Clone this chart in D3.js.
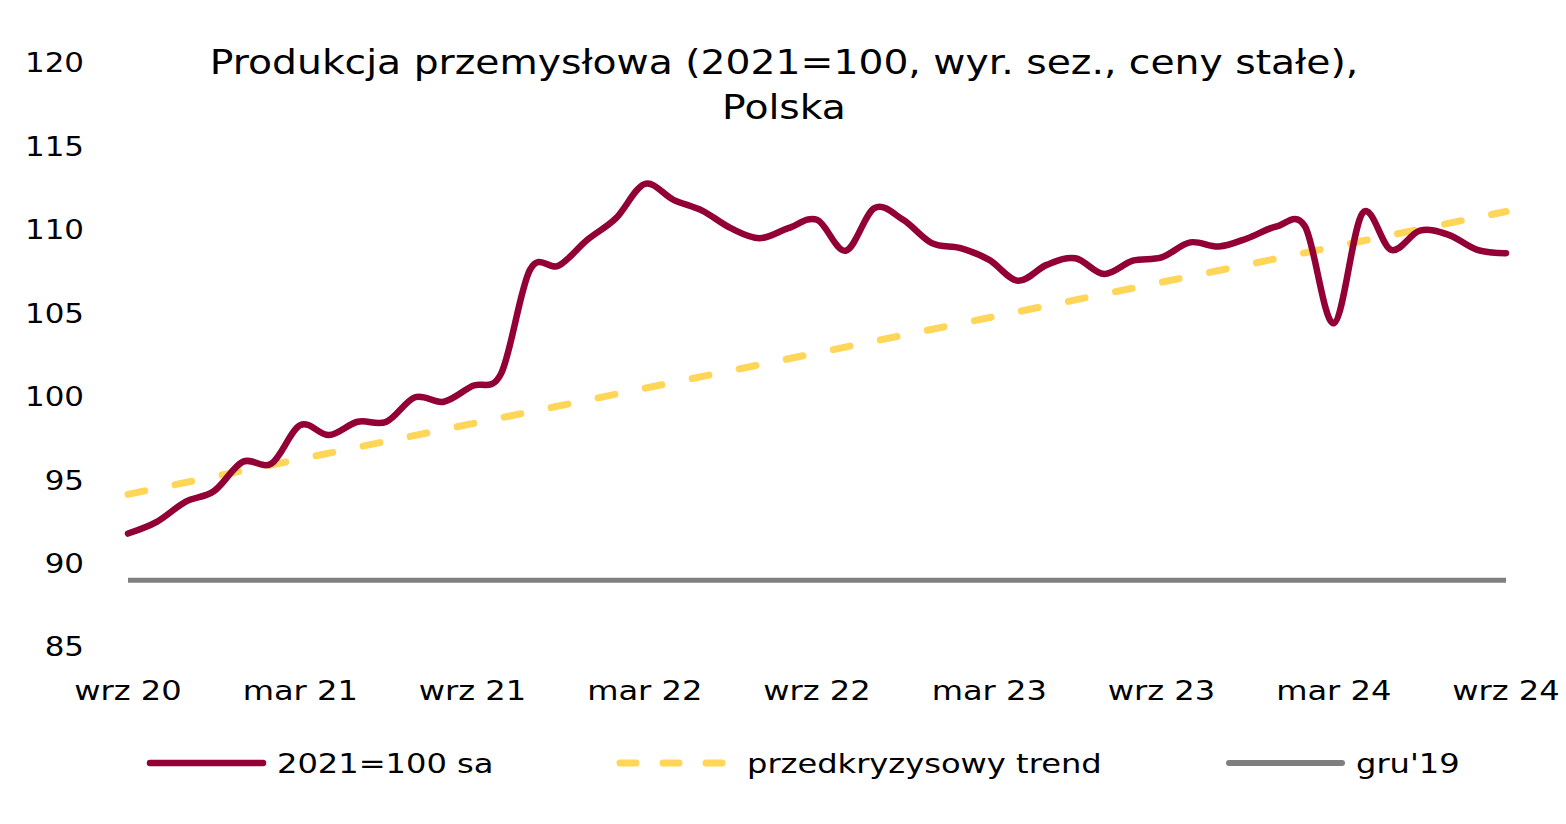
<!DOCTYPE html>
<html>
<head>
<meta charset="utf-8">
<script src="https://cdn.jsdelivr.net/npm/d3@7"></script>
<style>
  body { margin: 0; background: #fff; }
  svg text { font-family: Verdana, "DejaVu Sans", sans-serif; fill: #000; }
</style>
</head>
<body>
<div class="chart"></div>
<script>
// monthly index, wrz 20 .. wrz 24
var tickLabels = ["wrz 20", "mar 21", "wrz 21", "mar 22", "wrz 22", "mar 23", "wrz 23", "mar 24", "wrz 24"];
var tickMonths = [0, 6, 12, 18, 24, 30, 36, 42, 48];
var yTicks = [85, 90, 95, 100, 105, 110, 115, 120];

// 2021=100 sa
var production = [
  91.8, 92.5, 93.7, 94.35, 96.1, 96.0, 98.3, 97.7, 98.5, 98.5,
  99.97, 99.7, 100.65, 101.4, 107.6, 107.85, 109.4, 110.7, 112.75, 111.8,
  111.15, 110.1, 109.5, 110.1, 110.6, 108.75, 111.3, 110.6, 109.2, 108.9,
  108.2, 106.95, 107.9, 108.3, 107.35, 108.15, 108.35, 109.25, 109.0, 109.5,
  110.2, 110.2, 104.4, 111.0, 108.8, 109.95, 109.7, 108.8, 108.6
];
// przedkryzysowy trend (start, end)
var trendMonths = [0, 48];
var trendValues = [94.15, 111.1];
// gru'19 level
var dec19Level = 89.0;

var seriesNames = ["2021=100 sa", "przedkryzysowy trend", "gru'19"];
var colors = { prod: "#920035", trend: "#FFD657", dec: "#7F7F7F" };

var W = 1566, H = 824;
var sx = 1.19; // Verdana is wider than DejaVu Sans
var svg = d3.select(".chart").append("svg").attr("width", W).attr("height", H);

var x = d3.scaleLinear().domain([0, 48]).range([128, 1506]);
var y = d3.scaleLinear().domain([85, 120]).range([647, 63]);

function at(px, py) { return "translate(" + px + "," + py + ") scale(" + sx + ",1)"; }

// title
svg.append("text").attr("text-anchor", "middle").style("font-size", "33px")
  .attr("transform", at(784, 74))
  .text("Produkcja przemysłowa (2021=100, wyr. sez., ceny stałe),");
svg.append("text").attr("text-anchor", "middle").style("font-size", "33px")
  .attr("transform", at(784, 119))
  .text("Polska");

// y labels
svg.selectAll(".ylab")
  .data(yTicks)
  .enter().append("text")
  .attr("class", "ylab")
  .attr("transform", function (d) { return at(84, y(d)); })
  .attr("dy", "0.36em")
  .attr("text-anchor", "end")
  .style("font-size", "26px")
  .text(function (d) { return d; });

// x labels
svg.selectAll(".xlab")
  .data(tickMonths)
  .enter().append("text")
  .attr("class", "xlab")
  .attr("transform", function (d) { return at(x(d), 690); })
  .attr("dy", "0.36em")
  .attr("text-anchor", "middle")
  .style("font-size", "27px")
  .text(function (d, i) { return tickLabels[i]; });

// gru'19 line
svg.append("line")
  .attr("x1", x(0)).attr("x2", x(48))
  .attr("y1", y(dec19Level)).attr("y2", y(dec19Level))
  .style("stroke", colors.dec)
  .style("stroke-width", 5);

// trend
var line = d3.line()
  .x(function (d) { return x(d[0]); })
  .y(function (d) { return y(d[1]); });

svg.append("path")
  .attr("d", line(trendMonths.map(function (m, i) { return [m, trendValues[i]]; })))
  .style("fill", "none")
  .style("stroke", colors.trend)
  .style("stroke-width", 7)
  .style("stroke-linecap", "round")
  .style("stroke-dasharray", "17,31");

// production
var smooth = d3.line()
  .curve(d3.curveCardinal.tension(0))
  .x(function (d, i) { return x(i); })
  .y(function (d) { return y(d); });

svg.append("path")
  .attr("d", smooth(production))
  .style("fill", "none")
  .style("stroke", colors.prod)
  .style("stroke-width", 6.5)
  .style("stroke-linejoin", "round")
  .style("stroke-linecap", "round");

// legend
var legendItems = [
  { name: seriesNames[0], x1: 150, x2: 263, textX: 277, color: colors.prod, width: 6.5, dash: null },
  { name: seriesNames[1], x1: 620, x2: 726, textX: 747, color: colors.trend, width: 7, dash: "16,27" },
  { name: seriesNames[2], x1: 1229, x2: 1342, textX: 1356, color: colors.dec, width: 6, dash: null }
];
var lg = svg.selectAll(".legend").data(legendItems).enter().append("g").attr("class", "legend");
lg.append("line")
  .attr("x1", function (d) { return d.x1; })
  .attr("x2", function (d) { return d.x2; })
  .attr("y1", 763).attr("y2", 763)
  .style("stroke", function (d) { return d.color; })
  .style("stroke-width", function (d) { return d.width; })
  .style("stroke-linecap", "round")
  .style("stroke-dasharray", function (d) { return d.dash; });
lg.append("text")
  .attr("transform", function (d) { return at(d.textX, 763); })
  .attr("dy", "0.36em")
  .style("font-size", "27px")
  .text(function (d) { return d.name; });
</script>
</body>
</html>
